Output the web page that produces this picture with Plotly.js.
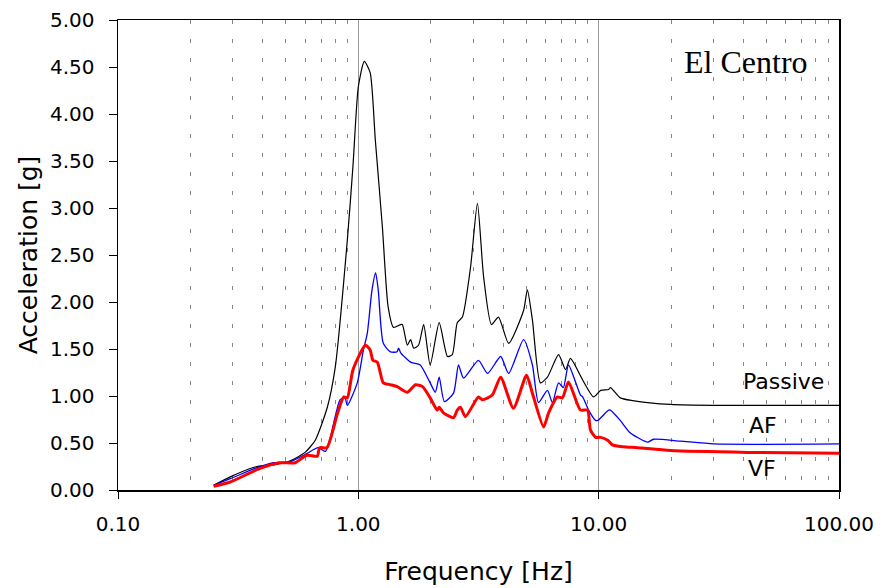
<!DOCTYPE html>
<html><head><meta charset="utf-8">
<script src="https://cdn.plot.ly/plotly-3.0.1.min.js"></script>
<style>html,body{margin:0;padding:0;background:#fff}#chart{width:880px;height:588px}</style>
</head><body><div id="chart"></div>
<script>
const passiveF = [0.25,0.293,0.372,0.45,0.521,0.6,0.662,0.743,0.802,0.90,0.95,1.0,1.059,1.12,1.177,1.259,1.33,1.40,1.50,1.525,1.60,1.65,1.70,1.78,1.87,1.99,2.17,2.35,2.46,2.58,2.71,2.93,3.13,3.32,3.58,3.83,4.22,4.87,5.05,5.30,5.72,6.12,6.81,7.28,7.63,8.58,9.52,10.2,11.0,11.2,12.3,13.9,16.0,19.9,30,50,100];
const passiveA = [0.05,0.14,0.245,0.27,0.31,0.40,0.53,0.88,1.31,2.66,3.45,4.29,4.56,4.44,3.72,2.80,1.95,1.73,1.76,1.76,1.54,1.60,1.51,1.54,1.76,1.33,1.78,1.42,1.44,1.78,1.84,2.37,3.05,2.27,1.76,1.84,1.56,1.91,2.13,1.81,1.14,1.20,1.44,1.28,1.40,1.17,0.99,1.06,1.07,1.09,0.98,0.95,0.93,0.91,0.90,0.90,0.90];
const afF = [0.25,0.293,0.372,0.443,0.52,0.613,0.68,0.73,0.76,0.84,0.88,0.90,0.99,1.05,1.09,1.14,1.18,1.21,1.27,1.36,1.45,1.47,1.50,1.65,1.70,1.81,1.99,2.09,2.17,2.28,2.49,2.61,2.74,3.16,3.45,3.91,4.22,4.87,5.30,5.62,6.12,6.42,6.81,7.13,7.49,8.40,8.58,9.08,9.71,9.91,11.0,11.2,12.3,13.5,16.0,16.9,21.9,30.2,100];
const afA = [0.05,0.12,0.23,0.29,0.30,0.39,0.45,0.41,0.53,0.96,0.98,0.90,1.14,1.49,1.67,2.13,2.31,2.13,1.56,1.47,1.47,1.51,1.46,1.36,1.35,1.33,1.14,1.04,1.20,0.94,1.03,1.33,1.19,1.38,1.24,1.42,1.24,1.60,1.33,0.93,1.06,0.93,1.14,1.09,1.33,1.01,0.99,0.85,0.74,0.74,0.85,0.85,0.74,0.61,0.51,0.54,0.52,0.49,0.49];
const vfF = [0.25,0.293,0.39,0.47,0.546,0.61,0.675,0.69,0.74,0.82,0.87,0.90,0.95,1.07,1.12,1.15,1.20,1.27,1.36,1.45,1.60,1.73,1.85,1.99,2.13,2.17,2.26,2.49,2.58,2.66,2.79,3.16,3.28,3.61,3.91,4.42,5.01,5.30,5.90,6.19,6.74,7.06,7.49,8.40,8.99,9.24,9.71,9.99,10.2,10.9,11.4,12.6,14.5,19.9,41.7,100];
const vfA = [0.04,0.085,0.23,0.29,0.29,0.37,0.36,0.45,0.45,0.82,0.99,0.98,1.28,1.54,1.49,1.38,1.36,1.14,1.12,1.10,1.04,1.12,1.10,0.98,0.85,0.88,0.82,0.77,0.85,0.88,0.78,0.99,0.96,1.01,1.20,0.87,1.22,1.03,0.67,0.82,0.99,0.98,1.15,0.85,0.85,0.64,0.56,0.56,0.56,0.53,0.48,0.46,0.45,0.42,0.40,0.39];
const xTickVals = [0.1,1,10,100];
const xTickText = ["0.10","1.00","10.00","100.00"];
const xMinorVals = [0.2,0.3,0.4,0.5,0.6,0.7,0.8,0.9,2,3,4,5,6,7,8,9,20,30,40,50,60,70,80,90];
const seriesLabels = ["Passive","AF","VF"];
const labelX = [58.7,48.2,47.8];
const labelY = [1.15,0.69,0.225];

const traces = [
  {x: passiveF, y: passiveA, mode:'lines', line:{color:'#000', width:1.2, shape:'spline', smoothing:0.6}, name:'Passive'},
  {x: afF, y: afA, mode:'lines', line:{color:'#0000ff', width:1.3, shape:'spline', smoothing:0.6}, name:'AF'},
  {x: vfF, y: vfA, mode:'lines', line:{color:'#ff0000', width:3, shape:'spline', smoothing:0.6}, name:'VF'}
];
const fam = '"DejaVu Sans", Verdana, sans-serif';
const layout = {
  width:880, height:588, showlegend:false,
  paper_bgcolor:'#fff', plot_bgcolor:'#fff',
  margin:{l:118, r:41, t:20, b:98},
  font:{family:fam, color:'#000'},
  xaxis:{type:'log', range:[-1,2], tickvals:xTickVals, ticktext:xTickText,
    ticks:'outside', ticklen:7, tickcolor:'#000', showline:true, linecolor:'#000', linewidth:1.5, mirror:true,
    showgrid:true, gridcolor:'#999', gridwidth:1, zeroline:false, ticklabelstandoff:8,
    tickfont:{size:20, family:fam},
    minor:{tickvals:xMinorVals, showgrid:true, gridcolor:'#888', griddash:'4px,15px', gridwidth:1, ticks:''},
    title:{text:'Frequency [Hz]', font:{size:25, family:fam}, standoff:28}},
  yaxis:{range:[0,5], dtick:0.5, tick0:0, tickformat:'.2f',
    ticks:'outside', ticklen:8, tickcolor:'#000', showline:true, linecolor:'#000', linewidth:1.5, mirror:true,
    showgrid:false, zeroline:false, tickfont:{size:20, family:fam}, ticklabelstandoff:10,
    title:{text:'Acceleration [g]', font:{size:25, family:fam}, standoff:5}},
  annotations:[
    {x:Math.log10(labelX[0]), y:labelY[0], xref:'x', yref:'y', text:seriesLabels[0], showarrow:false, font:{size:22, family:fam}, xanchor:'center', yanchor:'middle'},
    {x:Math.log10(labelX[1]), y:labelY[1], xref:'x', yref:'y', text:seriesLabels[1], showarrow:false, font:{size:22, family:fam}, xanchor:'center', yanchor:'middle'},
    {x:Math.log10(labelX[2]), y:labelY[2], xref:'x', yref:'y', text:seriesLabels[2], showarrow:false, font:{size:22, family:fam}, xanchor:'center', yanchor:'middle'},
    {x:0.8715, y:0.91, xref:'paper', yref:'paper', text:'El Centro', showarrow:false, font:{size:32, family:'"Liberation Serif", "Times New Roman", serif'}, xanchor:'center', yanchor:'middle'}
  ]
};
Plotly.newPlot('chart', traces, layout, {staticPlot:true, displayModeBar:false});
</script></body></html>
